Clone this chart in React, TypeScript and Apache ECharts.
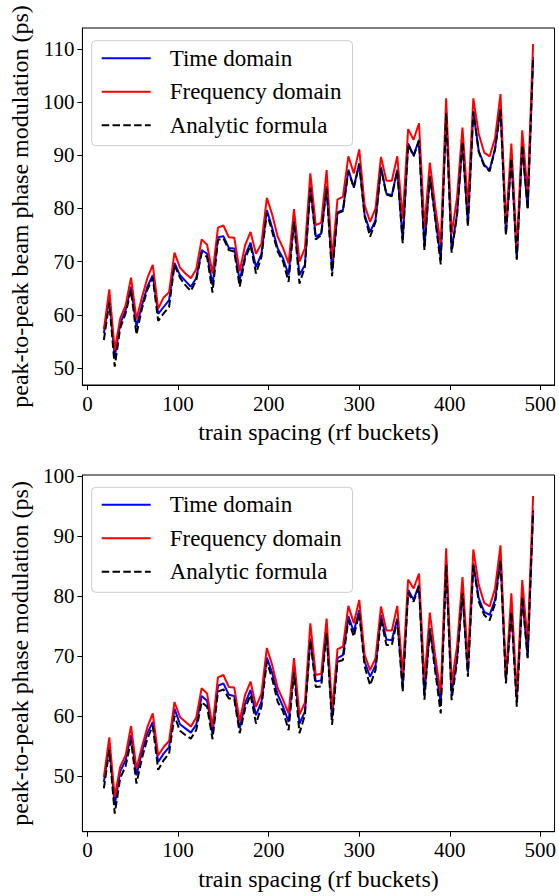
import React, { useEffect, useRef } from "react";
import * as echarts from "echarts";

const spacing = [18, 24, 30, 36, 42, 48, 54, 60, 66, 72, 78, 84, 90, 96, 102, 108, 114, 120, 126, 132, 138, 144, 150, 156, 162, 168, 174, 180, 186, 192, 198, 204, 210, 216, 222, 228, 234, 240, 246, 252, 258, 264, 270, 276, 282, 288, 294, 300, 306, 312, 318, 324, 330, 336, 342, 348, 354, 360, 366, 372, 378, 384, 390, 396, 402, 408, 414, 420, 426, 432, 438, 444, 450, 456, 462, 468, 474, 480, 486, 492];

// top panel: peak-to-peak beam phase modulation (ps)
const timeTop = [56.6, 63.1, 52.1, 58.4, 60.9, 65.3, 57.8, 61.8, 65.3, 67.5, 60.2, 61.5, 62.8, 69.8, 67.5, 66.4, 65.3, 66.9, 72.2, 71.5, 65.6, 74.6, 74.8, 72.6, 72.5, 66.5, 71.2, 73.6, 69.0, 71.5, 79.7, 76.3, 72.5, 70.6, 67.5, 78.0, 67.5, 69.4, 84.1, 74.7, 75.3, 84.2, 68.2, 79.3, 79.7, 87.3, 84.0, 88.5, 78.8, 75.6, 77.8, 87.8, 82.8, 82.5, 87.3, 74.0, 92.2, 90.0, 92.9, 72.8, 86.2, 78.4, 70.5, 98.0, 72.2, 79.0, 92.6, 77.2, 98.3, 90.8, 88.2, 87.2, 91.3, 98.8, 75.5, 89.5, 70.6, 92.0, 80.0, 108.5];
const freqTop = [57.3, 64.8, 53.4, 59.3, 61.8, 67.0, 59.2, 63.3, 66.9, 69.4, 61.2, 63.3, 64.3, 71.7, 68.9, 67.8, 66.9, 68.6, 74.2, 73.2, 67.8, 76.4, 76.8, 74.6, 74.5, 68.2, 73.1, 75.6, 71.5, 73.4, 82.0, 78.8, 74.7, 72.5, 69.7, 79.9, 70.0, 72.5, 86.6, 76.9, 77.3, 87.2, 70.5, 81.7, 82.2, 89.8, 86.6, 91.1, 80.6, 77.5, 80.0, 89.7, 85.2, 85.2, 89.8, 78.0, 94.9, 92.9, 96.0, 76.5, 88.6, 80.3, 73.2, 100.7, 75.2, 82.0, 95.2, 80.5, 100.7, 94.0, 90.5, 89.8, 93.2, 101.5, 77.0, 92.2, 72.2, 94.7, 82.8, 110.9];
const analyticTop = [55.3, 62.3, 50.3, 57.5, 60.3, 64.7, 56.3, 61.2, 64.7, 67.0, 58.9, 60.3, 61.5, 69.4, 67.0, 65.6, 64.5, 66.5, 71.7, 70.9, 64.2, 74.1, 74.4, 72.2, 71.9, 65.3, 70.6, 73.1, 67.8, 70.9, 79.2, 75.6, 71.9, 70.0, 66.2, 77.5, 65.9, 69.0, 83.8, 74.2, 75.0, 83.8, 67.3, 79.1, 79.5, 87.0, 83.9, 88.3, 78.5, 74.7, 77.5, 87.6, 82.6, 82.3, 87.1, 73.5, 92.0, 89.8, 92.7, 72.2, 86.0, 77.9, 69.5, 97.9, 71.7, 78.7, 92.5, 76.6, 98.2, 90.6, 88.0, 87.0, 91.1, 98.6, 75.0, 89.4, 70.4, 91.9, 79.8, 108.2];

// bottom panel: peak-to-peak phase modulation (ps)
const timeBottom = [49.1, 54.9, 45.2, 50.8, 52.7, 56.9, 50.2, 54.1, 57.2, 59.1, 52.4, 53.8, 54.9, 61.3, 58.7, 58.0, 57.3, 58.6, 63.4, 62.6, 57.1, 65.1, 65.5, 63.6, 63.4, 58.0, 62.2, 64.4, 60.2, 62.4, 69.8, 67.2, 63.6, 61.6, 59.1, 68.2, 58.8, 60.8, 73.0, 65.8, 66.0, 74.1, 59.7, 69.7, 70.2, 76.7, 74.1, 77.7, 69.1, 66.6, 68.5, 76.9, 72.8, 72.7, 76.3, 65.0, 81.1, 79.4, 81.9, 63.7, 74.7, 68.3, 62.2, 85.5, 63.8, 69.7, 80.8, 67.4, 85.5, 79.7, 77.4, 76.9, 79.4, 86.3, 66.1, 77.7, 62.7, 80.2, 69.9, 94.4];
const freqBottom = [49.9, 56.5, 46.6, 51.6, 53.5, 58.4, 51.3, 54.9, 58.2, 60.5, 53.5, 54.9, 55.9, 62.4, 59.9, 59.1, 58.3, 59.8, 64.7, 63.8, 58.3, 66.5, 66.9, 64.9, 64.8, 59.2, 63.6, 65.8, 61.6, 63.8, 71.4, 68.5, 64.7, 62.7, 60.5, 69.7, 60.3, 62.3, 75.5, 66.9, 67.1, 76.3, 61.1, 71.2, 71.6, 78.4, 75.5, 79.4, 70.2, 67.7, 69.7, 78.3, 74.3, 74.3, 78.4, 67.0, 82.8, 81.3, 83.8, 66.0, 77.3, 69.9, 63.8, 88.0, 65.5, 71.6, 83.2, 69.1, 87.8, 81.9, 78.9, 78.3, 81.3, 88.5, 66.6, 80.5, 63.6, 82.7, 72.4, 96.7];
const analyticBottom = [48.0, 54.4, 43.8, 49.7, 51.7, 56.0, 48.8, 53.0, 56.3, 58.4, 51.1, 52.7, 53.8, 60.1, 57.6, 56.9, 56.3, 57.7, 62.4, 61.6, 56.2, 64.1, 64.5, 63.0, 62.9, 57.2, 61.3, 63.6, 58.8, 61.6, 69.1, 66.2, 62.4, 60.8, 57.7, 67.3, 57.2, 60.2, 72.7, 64.9, 65.0, 73.8, 58.6, 69.1, 69.4, 76.0, 73.3, 77.2, 68.3, 65.2, 67.7, 76.2, 71.9, 71.9, 76.0, 64.1, 80.6, 79.1, 81.6, 62.8, 74.4, 67.4, 60.5, 85.2, 62.7, 69.1, 80.5, 66.6, 85.2, 79.1, 76.9, 76.0, 78.8, 86.0, 65.5, 77.4, 61.6, 79.9, 69.7, 94.2];

const xTicks = [0, 100, 200, 300, 400, 500];
const yTicksTop = [50, 60, 70, 80, 90, 100, 110];
const yTicksBottom = [50, 60, 70, 80, 90, 100];
const seriesNames = ["Time domain", "Frequency domain", "Analytic formula"];
const xTitle = "train spacing (rf buckets)";
const yTitleTop = "peak-to-peak beam phase modulation (ps)";
const yTitleBottom = "peak-to-peak phase modulation (ps)";

const FONT = "'Liberation Serif', 'DejaVu Serif', serif";

export default function App() {
  const ref = useRef<HTMLDivElement>(null);
  useEffect(() => {
    if (!ref.current) return;
    const chart = echarts.init(ref.current, null, { renderer: "svg" });
    const pair = (arr: number[]) => spacing.map((x, i) => [x, arr[i]]);

    const makeX = (gi: number) => ({
      type: "value",
      gridIndex: gi,
      min: -5.7,
      max: 515.7,
      axisLine: { show: true, onZero: false, lineStyle: { color: "#000", width: 1 } },
      axisTick: { show: true, inside: false, length: 5, lineStyle: { color: "#000", width: 1 }, customValues: xTicks },
      axisLabel: { customValues: xTicks, color: "#000", fontSize: 21, fontFamily: FONT, margin: 8 },
      splitLine: { show: false },
      name: xTitle,
      nameLocation: "middle",
      nameGap: 35,
      nameTextStyle: { fontSize: 24, fontFamily: FONT, color: "#000" },
    });
    const makeY = (gi: number, min: number, max: number, ticks: number[], title: string) => ({
      type: "value",
      gridIndex: gi,
      min,
      max,
      axisLine: { show: true, onZero: false, lineStyle: { color: "#000", width: 1 } },
      axisTick: { show: true, inside: false, length: 5, lineStyle: { color: "#000", width: 1 }, customValues: ticks },
      axisLabel: { customValues: ticks, color: "#000", fontSize: 21, fontFamily: FONT, margin: 8 },
      splitLine: { show: false },
      name: title,
      nameLocation: "middle",
      nameGap: 50,
      nameTextStyle: { fontSize: 24, fontFamily: FONT, color: "#000" },
    });
    const makeSeries = (gi: number, t: number[], f: number[], a: number[]) => [
      { name: seriesNames[0], type: "line", xAxisIndex: gi, yAxisIndex: gi, data: pair(t), symbol: "none", lineStyle: { color: "#0000ff", width: 2 }, itemStyle: { color: "#0000ff" } },
      { name: seriesNames[1], type: "line", xAxisIndex: gi, yAxisIndex: gi, data: pair(f), symbol: "none", lineStyle: { color: "#ff0000", width: 2 }, itemStyle: { color: "#ff0000" } },
      { name: seriesNames[2], type: "line", xAxisIndex: gi, yAxisIndex: gi, data: pair(a), symbol: "none", lineStyle: { color: "#000000", width: 2, type: [7.5, 3.3] }, itemStyle: { color: "#000000" } },
    ];
    const makeLegend = (top: number) => ({
      show: true,
      orient: "vertical",
      left: 91.7,
      top,
      data: seriesNames,
      itemWidth: 49,
      itemHeight: 14,
      itemGap: 10.5,
      padding: [6, 11, 9, 9],
      backgroundColor: "rgba(255,255,255,0.8)",
      borderColor: "#cccccc",
      borderWidth: 1,
      borderRadius: 4,
      selectedMode: false,
      itemStyle: { opacity: 0, borderWidth: 0 },
      textStyle: { fontSize: 23, fontFamily: FONT, color: "#000", padding: [0, 0, 0, 14], lineHeight: 23 },
    });

    chart.setOption({
      animation: false,
      backgroundColor: "#ffffff",
      grid: [
        { left: 79.3, top: 28, width: 478.4, height: 357, show: true, borderColor: "#000", borderWidth: 1, backgroundColor: "transparent" },
        { left: 79.3, top: 475, width: 478.4, height: 356.7, show: true, borderColor: "#000", borderWidth: 1, backgroundColor: "transparent" },
      ],
      xAxis: [makeX(0), makeX(1)],
      yAxis: [
        makeY(0, 46.85, 113.9, yTicksTop, yTitleTop),
        makeY(1, 40.8, 100.2, yTicksBottom, yTitleBottom),
      ],
      legend: [makeLegend(40.7), makeLegend(487.3)],
      series: [
        ...makeSeries(0, timeTop, freqTop, analyticTop),
        ...makeSeries(1, timeBottom, freqBottom, analyticBottom),
      ],
    });
    return () => chart.dispose();
  }, []);
  return (
    <div
      ref={ref}
      style={{ position: "fixed", left: 0, top: 0, width: 559, height: 896, background: "#fff" }}
    />
  );
}
